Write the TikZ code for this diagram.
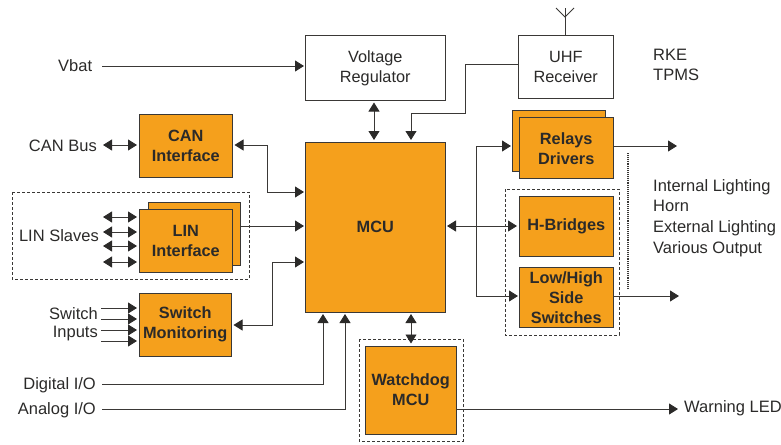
\documentclass[tikz,border=0pt]{standalone}
\usepackage{fontspec}
\setmainfont{Liberation Sans}
\usetikzlibrary{arrows.meta,calc}
\definecolor{org}{HTML}{F5A01C}
\definecolor{ink}{HTML}{2B2A29}
\definecolor{edge}{HTML}{3A3836}
\newcommand{\fs}[1]{\fontsize{16.3}{#1}\selectfont}
\tikzset{
 x=1pt,y=-1pt,
 box/.style={draw=edge,line width=1pt,inner sep=0pt,align=center,text=ink,font=\fs{20}},
 obox/.style={box,fill=org,font=\fs{20}\bfseries},
 wbox/.style={box,fill=white},
 lab/.style={inner sep=0pt,text=ink,font=\fontsize{16.5}{20.8}\selectfont},
 conn/.style={draw=edge,line width=0.9pt},
 one/.style={conn,-{Triangle[length=9pt,width=11pt,fill=ink,color=ink]},shorten >=2pt},
 two/.style={conn,{Triangle[length=9pt,width=11pt,fill=ink,color=ink]}-{Triangle[length=9pt,width=11pt,fill=ink,color=ink]},shorten >=2pt,shorten <=2pt},
 dbox/.style={draw=edge,line width=0.9pt,densely dashed},
}
\newcommand{\bx}[7]{\node[#1,minimum width=#5-#3,minimum height=#6-#4] (#2) at ({(#3+#5)/2},{(#4+#6)/2}) {#7};}
\begin{document}
\begin{tikzpicture}
\useasboundingbox (0,0) rectangle (781,444);
% dashed groups
\draw[dbox] (12,192) rectangle (249,279);
\draw[dbox] (505,189) rectangle (619,335);
\draw[dbox] (359,339) rectangle (463,441);
\draw[conn,densely dotted,line width=1.1pt] (628,153) -- (628,289);
% boxes
\bx{wbox}{vreg}{305.5}{36}{445}{100}{\fs{21}Voltage\\Regulator}
\bx{wbox}{uhf}{518.5}{36}{613}{98}{UHF\\Receiver}
\bx{obox}{mcu}{305.5}{142}{445}{312}{MCU}
\bx{obox}{can}{139.5}{114}{232}{177}{\fs{21}\bfseries CAN\\Interface}
\bx{obox}{linb}{148}{202}{240}{265}{}
\bx{obox}{lin}{139.5}{209}{232}{272}{\fs{22}\bfseries LIN\\Interface}
\bx{obox}{sw}{139.5}{293}{231}{356}{Switch\\Monitoring}
\bx{obox}{wd}{365.5}{346}{456}{434}{Watchdog\\MCU}
\bx{obox}{relb}{512.5}{110}{605}{171}{}
\bx{obox}{rel}{519.5}{117}{613}{178}{\fs{17.5}\bfseries\rule{0pt}{13.5pt}Relays\\Drivers}
\bx{obox}{hb}{519.5}{196}{613}{256}{\raisebox{-2pt}{H-Bridges}}
\bx{obox}{lhs}{519.5}{267}{613}{327}{\fs{17.5}\bfseries\rule{0pt}{14pt}Low/High\\Side\\Switches}
% labels
\node[lab,anchor=west] (vbat) at (58,66) {Vbat};
\node[lab,anchor=west,align=left] (rke) at (653,65) {RKE\\TPMS};
\node[lab,anchor=east] (canb) at (97,146) {CAN Bus};
\node[lab,anchor=east] (lins) at (99,236) {LIN Slaves};
\node[lab,anchor=east,align=right,font=\fontsize{16.5}{18}\selectfont] (swi) at (98,324) {Switch\\Inputs};
\node[lab,anchor=east] (dio) at (96,385) {Digital I/O};
\node[lab,anchor=east] (aio) at (96,410) {Analog I/O};
\node[lab,anchor=west,align=left] (out) at (653,218) {Internal Lighting\\Horn\\External Lighting\\Various Output};
\node[lab,anchor=west] (led) at (684,408) {Warning LED};
% free ends
\coordinate (vs) at (102,66);
\coordinate (ve) at (306,66);
\coordinate (m1) at (306,192);
\coordinate (m2) at (306,226);
\coordinate (m3) at (306,262);
\coordinate (m4) at (323,312);
\coordinate (m5) at (345,312);
\coordinate (m6) at (411,142);
\coordinate (m7) at (411,312);
\coordinate (m8) at (445,226);
\coordinate (m9) at (374,142);
\coordinate (rl) at (513,146);
\coordinate (lo) at (679,146);
\coordinate (ll) at (520,296);
\coordinate (lr) at (681,296);
\coordinate (h1) at (476,146);
\coordinate (h2) at (476,296);
\coordinate (wo) at (680,409);
% connectors
\draw[one] (vs) -- (ve);
\draw[two] (vreg.south -| m9) -- (m9);
\draw[one] (uhf.west |- 0,64) -- (465,64) -- (465,113) -- (411,113) -- (m6);
\draw[conn] (uhf.north -| 565,0) -- (565,8);
\draw[conn] (556,8) -- (565,17) -- (574,8);
\draw[two] (101,145) -- (can.west |- 0,145);
\draw[two] (can.east |- 0,145) -- (267,145) -- (267,192) -- (m1);
\foreach \y in {217,232,246,262} \draw[two] (101,\y) -- (lin.west |- 0,\y);
\draw[one] (linb.east |- m2) -- (m2);
\foreach \y in {308,319,330,341} \draw[one] (101,\y) -- (sw.west |- 0,\y);
\draw[two] (sw.east |- 0,325) -- (272,325) -- (272,262) -- (m3);
\draw[one] (102,384) -- (323,384) -- (m4);
\draw[one] (102,409) -- (345,409) -- (m5);
\draw[two] (m7) -- (wd.north -| m7);
\draw[one] (wd.east |- wo) -- (wo);
\draw[one] (h1) -- (rl);
\draw[conn] (h1) -- (h2);
\draw[one] (h2) -- (ll);
\draw[two] (m8) -- (hb.west);
\draw[one] (rel.east |- rl) -- (lo);
\draw[one] (lhs.east |- ll) -- (lr);
\end{tikzpicture}
\end{document}
